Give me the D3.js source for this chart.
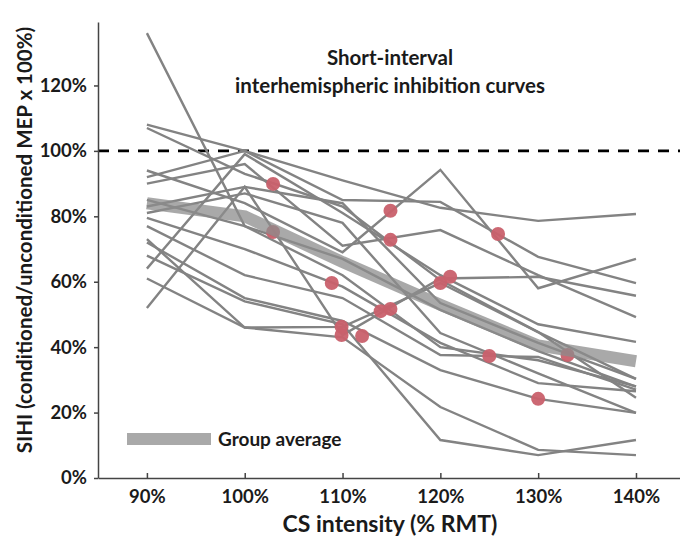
<!DOCTYPE html>
<html>
<head>
<meta charset="utf-8">
<script src="https://cdn.jsdelivr.net/npm/d3@7"></script>
<style>
  body { margin: 0; background: #fff; }
  text { font-family: Lato, "Open Sans", sans-serif; font-weight: bold; fill: #1a1a1a; }
</style>
</head>
<body>
<script>
// CS intensity levels (% RMT)
var intensities = [90, 100, 110, 120, 130, 140];

// individual subjects, SIHI (%) at each intensity
var subjects = [
  [136, 77, 62, 40, 36, 28],
  [108, 100, 85, 84.4, 67.6, 59.6],
  [107, 93, 83, 60.5, 44.6, 24.5],
  [94, 84, 69, 94.2, 58, 67],
  [92, 100, 91, 82.6, 78.6, 80.7],
  [90, 96, 71, 75.8, 62, 49.2],
  [85, 77, 67, 51.4, 38.8, 27.9],
  [83, 89, 84, 53.5, 41.3, 30.3],
  [81, 87, 78, 44.3, 32, 19.9],
  [79.5, 70, 58.5, 41.3, 29, 26.5],
  [77, 62, 55, 37.6, 37, 27],
  [73, 46, 46.2, 59.6, 44.6, 30.3],
  [72, 55, 48, 33, 24.2, 19.9],
  [64, 99, 81, 62, 47, 41.6],
  [61, 46, 43, 21.7, 8.6, 7],
  [52, 89, 43.7, 61, 61.5, 55.7],
  [68, 54, 47, 11.6, 7, 11.6]
];

// group average curve
var groupAvg = [84, 80, 66, 53, 40.5, 35.7];

// threshold markers [intensity, SIHI]
var thresholds = [
  [102.9, 89.9], [102.9, 75.2], [108.9, 59.6], [109.9, 46.2], [109.9, 43.7],
  [112, 43.4], [113.9, 51], [114.9, 51.7], [114.9, 81.7], [114.9, 72.8],
  [120, 59.6], [121, 61.5], [125.9, 74.6], [125, 37.3], [130, 24.2], [133, 37.6]
];

var yTicks = [0, 20, 40, 60, 80, 100, 120];

var width = 680, height = 536;
var margin = {left: 98, top: 22, right: 0, bottom: 58};

var svg = d3.select("body").append("svg")
  .attr("width", width)
  .attr("height", height);

var x = d3.scaleLinear().domain([85, 144.5]).range([margin.left, width - margin.right]);
var y = d3.scaleLinear().domain([0, 139.4]).range([height - margin.bottom, margin.top]);

var line = d3.line()
  .x(function(d, i){ return x(intensities[i]); })
  .y(function(d){ return y(d); });

// reference line at 100%
svg.append("line")
  .attr("x1", x(85)).attr("x2", x(144.5))
  .attr("y1", y(100)).attr("y2", y(100))
  .attr("stroke", "#000")
  .attr("stroke-width", 2.6)
  .attr("stroke-dasharray", "11,9");

// subject curves
svg.selectAll(".subject")
  .data(subjects)
  .enter()
  .append("path")
  .attr("class", "subject")
  .attr("d", line)
  .attr("fill", "none")
  .attr("stroke", "#838383")
  .attr("stroke-width", 2.4);

// threshold dots
svg.selectAll(".thr")
  .data(thresholds)
  .enter()
  .append("circle")
  .attr("class", "thr")
  .attr("cx", function(d){ return x(d[0]); })
  .attr("cy", function(d){ return y(d[1]); })
  .attr("r", 7)
  .attr("fill", "#c9606c")
  .attr("fill-opacity", 0.95);

// group average band
svg.append("path")
  .datum(groupAvg)
  .attr("d", line)
  .attr("fill", "none")
  .attr("stroke", "#8c8c8c")
  .attr("stroke-opacity", 0.75)
  .attr("stroke-width", 12);

// axes
var xAxis = d3.axisBottom(x)
  .tickValues(intensities)
  .tickSizeInner(-5).tickSizeOuter(0)
  .tickPadding(12)
  .tickFormat(function(d){ return d + "%"; });

var yAxis = d3.axisLeft(y)
  .tickValues(yTicks)
  .tickSizeInner(4).tickSizeOuter(0)
  .tickPadding(7)
  .tickFormat(function(d){ return d + "%"; });

var gx = svg.append("g")
  .attr("transform", "translate(0," + y(0) + ")")
  .call(xAxis);
var gy = svg.append("g")
  .attr("transform", "translate(" + x(85) + ",0)")
  .call(yAxis);

[gx, gy].forEach(function(g){
  g.select(".domain").attr("stroke", "#444").attr("stroke-width", 1.5);
  g.selectAll(".tick line").attr("stroke", "#444").attr("stroke-width", 1.5);
  g.selectAll(".tick text")
    .style("font-size", "18.5px")
    .style("font-family", "Lato, 'Open Sans', sans-serif")
    .style("font-weight", "bold")
    .attr("fill", "#1a1a1a");
});

// axis titles
svg.append("text")
  .attr("x", 390).attr("y", 532)
  .attr("text-anchor", "middle")
  .style("font-size", "23px")
  .text("CS intensity (% RMT)");

svg.append("text")
  .attr("transform", "translate(32,240) rotate(-90)")
  .attr("text-anchor", "middle")
  .style("font-size", "20.5px")
  .text("SIHI (conditioned/unconditioned MEP x 100%)");

// chart title
svg.append("text")
  .attr("x", 390).attr("y", 65)
  .attr("text-anchor", "middle")
  .style("font-size", "20.5px")
  .text("Short-interval");
svg.append("text")
  .attr("x", 390).attr("y", 93)
  .attr("text-anchor", "middle")
  .style("font-size", "20.5px")
  .text("interhemispheric inhibition curves");

// legend
svg.append("line")
  .attr("x1", 127).attr("x2", 211)
  .attr("y1", 439).attr("y2", 439)
  .attr("stroke", "#8c8c8c")
  .attr("stroke-opacity", 0.75)
  .attr("stroke-width", 12);
svg.append("text")
  .attr("x", 218).attr("y", 446)
  .style("font-size", "19px")
  .text("Group average");
</script>
</body>
</html>
